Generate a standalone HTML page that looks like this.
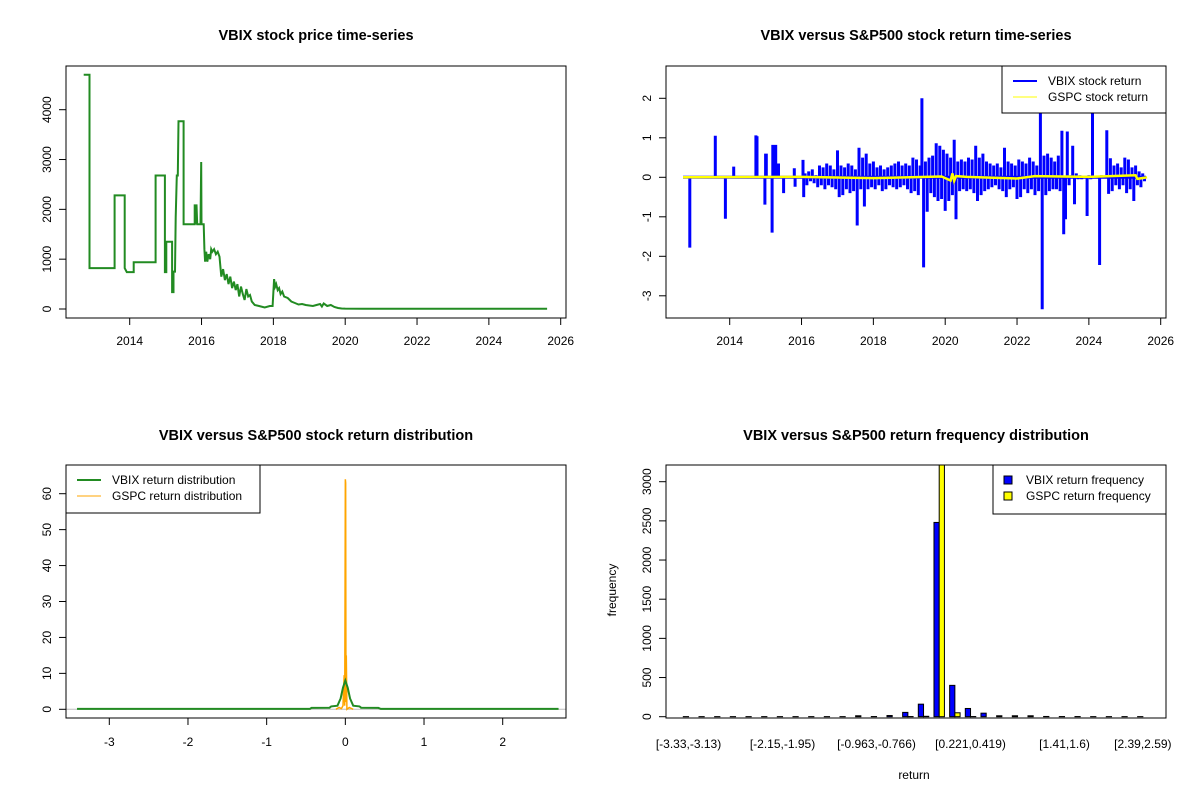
<!DOCTYPE html>
<html><head><meta charset="utf-8">
<style>
html,body{margin:0;padding:0;background:#fff;}
svg{display:block;font-family:"Liberation Sans",Arial,sans-serif;}
</style></head>
<body>
<svg id="c" width="1200" height="800" viewBox="0 0 1200 800" xmlns="http://www.w3.org/2000/svg">
<rect x="0" y="0" width="1200" height="800" fill="#fff"/>
</svg>
<script>
// ---------- DATA ----------
const priceYears = [2012.72,2012.88,2012.88,2013.58,2013.58,2013.86,2013.86,2013.92,2014.11,2014.11,2014.72,2014.72,2014.98,2014.98,2015.02,2015.02,2015.15,2015.18,2015.18,2015.22,2015.22,2015.26,2015.28,2015.31,2015.34,2015.36,2015.5,2015.5,2015.81,2015.81,2015.84,2015.86,2015.88,2015.97,2015.99,2016.0,2016.06,2016.08,2016.1,2016.13,2016.16,2016.2,2016.24,2016.27,2016.3,2016.35,2016.4,2016.45,2016.5,2016.55,2016.6,2016.65,2016.7,2016.75,2016.8,2016.85,2016.9,2016.95,2017.0,2017.05,2017.1,2017.15,2017.2,2017.25,2017.3,2017.35,2017.4,2017.48,2017.6,2017.76,2017.9,2017.98,2018.02,2018.05,2018.08,2018.12,2018.16,2018.2,2018.25,2018.3,2018.4,2018.5,2018.6,2018.7,2018.8,2018.9,2019.0,2019.1,2019.2,2019.3,2019.35,2019.4,2019.5,2019.6,2019.7,2019.8,2019.9,2020.0,2020.5,2021.0,2021.5,2022.0,2022.1,2022.5,2023.0,2024.0,2024.8,2025.0,2025.62];
const priceValues = [4700,4700,820,820,2280,2280,820,740,740,940,940,2680,2680,740,740,1350,1350,1350,340,340,750,750,1840,2680,2680,3770,3770,1700,1700,2100,1700,2100,1700,1700,2950,1700,1700,1200,950,1150,950,1100,1000,1200,1150,1200,1100,1150,1050,650,800,580,700,500,650,420,550,380,500,250,450,300,180,400,250,280,150,80,60,30,60,60,600,450,500,380,420,300,350,250,220,150,120,90,100,80,70,60,80,100,50,110,60,80,40,20,10,8,6,5,5,6,5,5,5,5,5,5,5];

const earlyYears = [2012.89,2013.6,2013.88,2014.11,2014.73,2014.76,2014.98,2015.0,2015.02,2015.18,2015.2,2015.28,2015.36,2015.5,2015.8,2015.82,2016.04,2016.06];
const earlyReturns = [-1.78,1.05,-1.05,0.27,1.06,1.04,-0.69,0.6,0.6,-1.4,0.82,0.82,0.35,-0.4,0.23,-0.24,0.44,-0.5];
const denseStart = 2016.1, denseStep = 0.05;
const denseReturns = [0.1,-0.2,0.15,-0.1,0.2,-0.15,0.05,-0.25,0.3,-0.2,0.25,-0.3,0.35,-0.2,0.3,-0.25,0.2,-0.3,
0.68,-0.5,0.3,-0.45,0.25,-0.3,0.35,-0.4,0.3,-0.35,0.2,-1.22,0.75,-0.3,0.5,-0.74,0.6,-0.3,0.35,-0.25,
0.4,-0.3,0.25,-0.2,0.3,-0.35,0.2,-0.3,0.25,-0.2,0.3,-0.25,0.35,-0.3,0.4,-0.25,0.3,-0.2,0.35,-0.3,
0.3,-0.4,0.5,-0.35,0.45,-0.45,0.3,2.0,-2.28,0.4,-0.87,0.5,-0.4,0.55,-0.5,0.86,-0.6,0.8,-0.55,0.7,
-0.85,0.6,-0.6,0.5,-0.45,0.95,-1.06,0.4,-0.35,0.45,-0.3,0.4,-0.35,0.5,-0.3,0.45,-0.4,0.8,-0.6,0.5,
-0.45,0.6,-0.35,0.4,-0.3,0.35,-0.25,0.3,-0.2,0.35,-0.3,0.25,-0.35,0.75,-0.5,0.4,-0.3,0.35,-0.25,0.3,
-0.55,0.45,-0.5,0.4,-0.3,0.35,-0.4,0.5,-0.3,0.4,-0.45,0.3,-0.35,1.85,-3.34,0.55,-0.45,0.6,-0.35,0.5,
-0.3,0.4,-0.3,0.55,-0.35,1.18,-1.44,-1.06,1.16,-0.2,0.05,0.8,-0.68,0.1,-0.05,0.05,-0.05,0.03,-0.02,-0.98,
0.05,-0.05,1.8,-0.03,0.02,-0.02,-2.22,0.05,-0.03,0.02,1.19,-0.42,0.48,-0.35,0.3,-0.2,0.35,-0.3,0.25,-0.2,
0.5,-0.4,0.45,-0.3,0.25,-0.6,0.3,-0.2,0.15,-0.25,0.1,-0.1];
const gspcYears = [2012.7,2016.0,2018.0,2019.9,2020.15,2020.2,2020.25,2020.3,2020.6,2022.0,2022.5,2024.0,2025.3,2025.35,2025.62];
const gspcReturns = [0,0.01,-0.02,0.02,-0.08,0.1,-0.09,0.03,0.01,-0.03,0.03,0.01,0.05,-0.04,0];

const vbixDensX = [-3.41,-0.45,-0.43,-0.2,-0.18,-0.1,-0.06,-0.03,0,0.03,0.06,0.1,0.18,0.2,0.42,0.45,2.71];
const vbixDensY = [0.1,0.1,0.4,0.45,0.8,1,3,6,8,6,3,1,0.8,0.45,0.4,0.1,0.1];
const gspcDensX = [-0.12,-0.08,-0.05,-0.03,-0.015,-0.008,-0.004,0,0.004,0.008,0.012,0.02,0.05,0.1];
const gspcDensY = [0,0.5,0.2,1,9.5,1,30,64,63,2,15,0,0.5,0];

const binLabels = ["[-3.33,-3.13)","[-2.15,-1.95)","[-0.963,-0.766)","[0.221,0.419)","[1.41,1.6)","[2.39,2.59)"];
const binLabelIdx = [0,6,12,18,24,29];
const vbixFreq = [1,1,1,1,1,1,1,1,1,1,1,12,2,15,55,160,2480,400,105,45,12,12,12,3,2,2,1,1,1,1];
const gspcFreq = [0,0,0,0,0,0,0,0,0,0,0,0,0,0,2,5,3400,50,2,0,0,0,0,0,0,0,0,0,0,0];

// ---------- DRAW ----------
const NS = "http://www.w3.org/2000/svg";
const svg = document.getElementById('c');
function mk(tag, attrs, parent){
  const e = document.createElementNS(NS, tag);
  for (const k in attrs) e.setAttribute(k, attrs[k]);
  (parent||svg).appendChild(e);
  return e;
}
function txt(s, x, y, opts, parent){
  const e = mk('text', Object.assign({x:x, y:y, 'font-size':12, fill:'#000', 'text-anchor':'middle'}, opts||{}), parent);
  e.textContent = s;
  return e;
}
function lin(a0,a1,b0,b1){ return v => b0 + (v-a0)*(b1-b0)/(a1-a0); }

function panel(name, x0, y0, x1, y1, title, ty){
  const g = mk('g', {});
  
  
  const t = txt(title, (x0+x1)/2, ty, {'font-size':14.5,'font-weight':'bold'}, g);
  
  
  return g;
}
function frame(g, x0,y0,x1,y1, name){
  const r = mk('rect', {x:x0,y:y0,width:x1-x0,height:y1-y0,fill:'none',stroke:'#000','stroke-width':1}, g);
  
  
}
function yAxis(g, ticks, sy, xAx, name){
  const ag = mk('g', {}, g);
  
  
  mk('line',{x1:xAx,x2:xAx,y1:sy(ticks[0]),y2:sy(ticks[ticks.length-1]),stroke:'#000'},ag);
  ticks.forEach(v=>{
    const y = sy(v);
    mk('line',{x1:xAx-7,x2:xAx,y1:y,y2:y,stroke:'#000'},ag);
    const lx = xAx-19;
    const t = txt(String(v), lx, y, {transform:`rotate(-90 ${lx} ${y})`}, ag);
    t.setAttribute('dy','4');
  });
}
function xAxis(g, ticks, sx, yAx, name, labelY){
  const ag = mk('g', {}, g);
  
  
  mk('line',{x1:sx(ticks[0]),x2:sx(ticks[ticks.length-1]),y1:yAx,y2:yAx,stroke:'#000'},ag);
  ticks.forEach(v=>{
    const x = sx(v);
    mk('line',{x1:x,x2:x,y1:yAx,y2:yAx+7,stroke:'#000'},ag);
    txt(String(v), x, labelY, {}, ag);
  });
}
function legend(g, x0,y0,x1,y1, items, name){
  const lg = mk('g', {}, g);
  
  
  mk('rect',{x:x0,y:y0,width:x1-x0,height:y1-y0,fill:'#fff',stroke:'#000'},lg);
  items.forEach((it,i)=>{
    const y = y0 + 16 + i*16;
    if (it.box) mk('rect',{x:x0+11,y:y-5,width:8,height:8,fill:it.color,stroke:'#000'},lg);
    else mk('line',{x1:x0+11,x2:x0+35,y1:y-1,y2:y-1,stroke:it.color,'stroke-width':it.w},lg);
    const t = txt(it.label, x0+(it.box?33:46), y+3, {'text-anchor':'start'}, lg);
    
    
  });
}

// ---- Panel 1 ----
{
  const g = panel('price-panel', 66,66,566,318, 'VBIX stock price time-series', 40);
  const sx = lin(2014, 2026, 129.7, 560.7);
  const sy = lin(0, 4000, 309, 109.7);
  const pts = priceYears.map((yr,i)=> sx(yr).toFixed(1)+','+sy(priceValues[i]).toFixed(1)).join(' ');
  const pl = mk('polyline',{points:pts,fill:'none',stroke:'#228B22','stroke-width':2,'stroke-linejoin':'miter'},g);
  
  
  frame(g,66,66,566,318,'price-plot-frame');
  yAxis(g,[0,1000,2000,3000,4000],sy,66,'price-y-axis');
  xAxis(g,[2014,2016,2018,2020,2022,2024,2026],sx,318,'price-x-axis',345);
}

// ---- Panel 2 ----
{
  const g = panel('return-panel', 666,66,1166,318, 'VBIX versus S&P500 stock return time-series', 40);
  const sx = lin(2014, 2026, 729.7, 1160.7);
  const sy = lin(0, 2, 177.3, 98.3);
  const y0 = sy(0).toFixed(1);
  const pts = [sx(2012.7).toFixed(1)+','+y0];
  earlyYears.forEach((yr,i)=>{ const x = sx(yr).toFixed(1); pts.push(x+','+y0, x+','+sy(earlyReturns[i]).toFixed(1), x+','+y0); });
  denseReturns.forEach((v,i)=>{ const x = sx(denseStart + i*denseStep).toFixed(1); pts.push(x+','+y0, x+','+sy(v).toFixed(1), x+','+y0); });
  const pl = mk('polyline',{points:pts.join(' '),fill:'none',stroke:'#0000FF','stroke-width':3},g);
  
  
  const gp = gspcYears.map((yr,i)=> sx(yr).toFixed(1)+','+sy(gspcReturns[i]).toFixed(1)).join(' ');
  const pl2 = mk('polyline',{points:gp,fill:'none',stroke:'#FFFF00','stroke-width':2.5},g);
  
  
  frame(g,666,66,1166,318,'return-plot-frame');
  yAxis(g,[-3,-2,-1,0,1,2],sy,666,'return-y-axis');
  xAxis(g,[2014,2016,2018,2020,2022,2024,2026],sx,318,'return-x-axis',345);
  legend(g,1002,66,1166,113,[{label:'VBIX stock return',color:'#0000FF',w:2},{label:'GSPC stock return',color:'#FFFF00',w:1}],'return-legend');
}

// ---- Panel 3 ----
{
  const g = panel('density-panel', 66,465,566,718, 'VBIX versus S&P500 stock return distribution', 440);
  const sx = lin(-3, 2, 109.3, 502.7);
  const sy = lin(0, 60, 709.3, 493.7);
  const zl = mk('line',{x1:66,x2:566,y1:sy(0),y2:sy(0),stroke:'#bebebe'},g);
  
  
  const gp = gspcDensX.map((v,i)=> sx(v).toFixed(2)+','+sy(gspcDensY[i]).toFixed(1)).join(' ');
  const p2 = mk('polyline',{points:gp,fill:'none',stroke:'#FFA500','stroke-width':1.5},g);
  
  
  const vp = vbixDensX.map((v,i)=> sx(v).toFixed(2)+','+sy(vbixDensY[i]).toFixed(1)).join(' ');
  const p1 = mk('polyline',{points:vp,fill:'none',stroke:'#228B22','stroke-width':2},g);
  
  
  frame(g,66,465,566,718,'density-plot-frame');
  yAxis(g,[0,10,20,30,40,50,60],sy,66,'density-y-axis');
  xAxis(g,[-3,-2,-1,0,1,2],sx,718,'density-x-axis',746);
  legend(g,66,465,260,513,[{label:'VBIX return distribution',color:'#228B22',w:2},{label:'GSPC return distribution',color:'#FFA500',w:1}],'density-legend');
}

// ---- Panel 4 ----
{
  const g = panel('histogram-panel', 666,465,1166,718, 'VBIX versus S&P500 return frequency distribution', 440);
  const bw = 5.222;
  const ux = u => 678.1 + u*bw;
  const sy = lin(0, 3000, 716.7, 481.7);
  const clip = mk('clipPath',{id:'hclip'},g);
  mk('rect',{x:666,y:465,width:500,height:253},clip);
  const bars = mk('g',{'clip-path':'url(#hclip)'},g);
  
  
  vbixFreq.forEach((v,k)=>{
    const x = ux(1+3*k), y = sy(v);
    const r = mk('rect',{x:x,y:y,width:bw,height:Math.max(0,sy(0)-y),fill:'#0000FF',stroke:'#000','stroke-width':1},bars);
    
    
    const v2 = gspcFreq[k], y2 = sy(v2);
    const r2 = mk('rect',{x:x+bw,y:y2,width:bw,height:Math.max(0,sy(0)-y2),fill:'#FFFF00',stroke:'#000','stroke-width':1},bars);
    
    
  });
  frame(g,666,465,1166,718,'histogram-plot-frame');
  yAxis(g,[0,500,1000,1500,2000,2500,3000],sy,666,'histogram-y-axis');
  binLabelIdx.forEach((k,i)=>{
    const t = txt(binLabels[i], ux(1+3*k)+bw, 748, {}, g);
    
    
  });
  const xl = txt('return', 914, 779, {}, g);
  
  
  const yl = txt('frequency', 616, 590, {transform:'rotate(-90 616 590)'}, g);
  
  
  legend(g,993,465,1166,514,[{label:'VBIX return frequency',color:'#0000FF',box:true},{label:'GSPC return frequency',color:'#FFFF00',box:true}],'histogram-legend');
}
</script>
</body></html>
